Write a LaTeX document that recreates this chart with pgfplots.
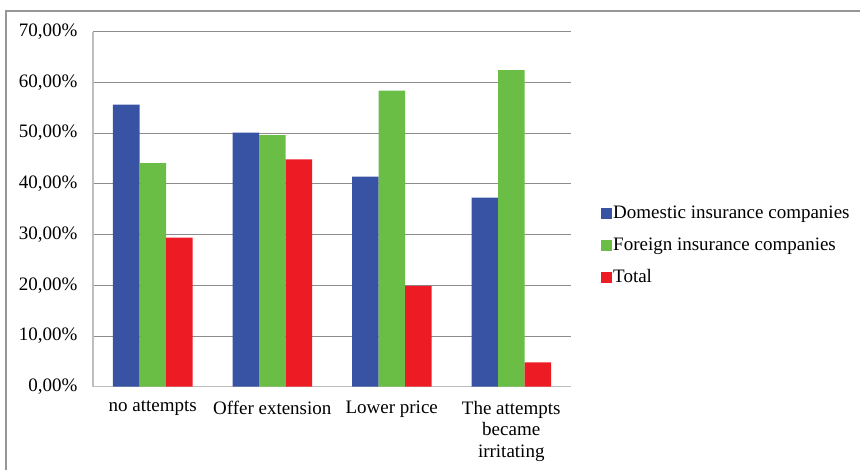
\documentclass[border=0pt]{standalone}
\usepackage{fontspec}
\setmainfont{Liberation Serif}
\usepackage{pgfplots}
\pgfplotsset{compat=1.18}

\definecolor{domblue}{RGB}{57,83,164}
\definecolor{forgreen}{RGB}{106,189,69}
\definecolor{totred}{RGB}{237,28,36}
\definecolor{gridgray}{RGB}{140,140,140}
\definecolor{axisgray}{RGB}{190,190,190}
\definecolor{framegray}{RGB}{150,150,150}

\newcommand\chartfont{\fontsize{19}{21.5}\selectfont}

\begin{document}
\chartfont
\begin{tikzpicture}[x=1pt,y=1pt]
  \useasboundingbox (0,0) rectangle (860,469);
  % outer chart frame, cut off at right and bottom
  \draw[framegray, line width=1.5pt] (6,-5) -- (6,458) -- (870,458);
  \begin{axis}[
      at={(93pt,82.3pt)}, anchor=south west,
      scale only axis,
      width=478pt, height=355pt,
      ybar=0pt, bar width=26.5pt,
      xmin=-0.5, xmax=3.5,
      ymin=0, ymax=70,
      ytick={0,10,...,70},
      xtick=data,
      xticklabels={no attempts, Offer extension, Lower price, {The attempts\\became\\irritating}},
      xticklabel style={align=center, font=\chartfont, yshift=-8pt},
      yticklabel={\pgfmathprintnumber[fixed,fixed zerofill,precision=2,use comma]{\tick}\%},
      yticklabel style={font=\chartfont, xshift=-9pt},
      /pgf/number format/assume math mode=true,
      axis x line=bottom, axis y line=left,
      axis line style={-, draw=axisgray, line width=1.2pt},
      major tick length=0pt,
      ymajorgrids, grid style={gridgray, line width=0.8pt},
      legend style={draw=none, fill=none, at={(1.0565,0.397)}, anchor=west,
        font=\chartfont, row sep=14.5pt,
        nodes={inner sep=1pt}},
      legend cell align=left,
      legend image code/.code={\fill[#1] (0pt,-5.5pt) rectangle (11pt,5.5pt);},
    ]
    \addplot[fill=domblue, draw=none] coordinates {(0,55.6) (1,50.1) (2,41.4) (3,37.3)};
    \addplot[fill=forgreen, draw=none] coordinates {(0,44.1) (1,49.6) (2,58.4) (3,62.4)};
    \addplot[fill=totred, draw=none] coordinates {(0,29.4) (1,44.8) (2,19.9) (3,4.8)};
    \legend{Domestic insurance companies, Foreign insurance companies, Total}
  \end{axis}
\end{tikzpicture}
\end{document}
